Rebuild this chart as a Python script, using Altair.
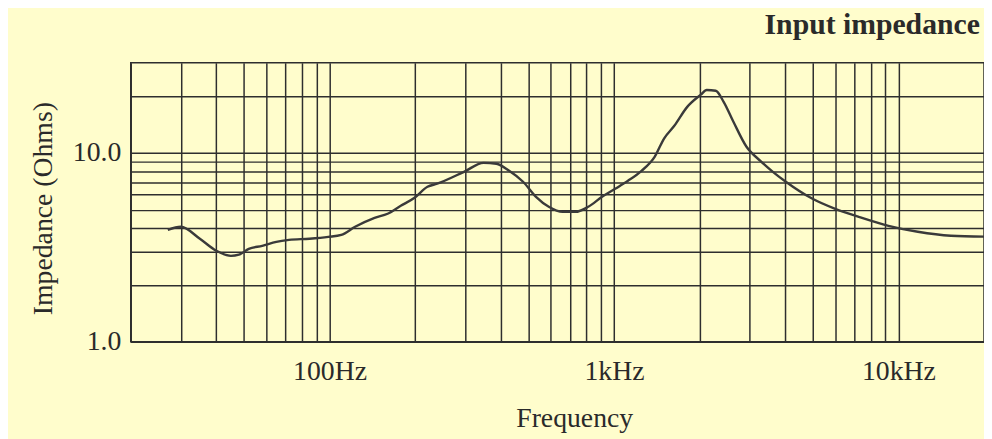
import altair as alt
import pandas as pd

freq = [27, 30, 35, 40, 45, 48, 52, 58, 65, 72, 85, 99, 110, 123, 144, 160, 178, 199, 221, 239,
        297, 348, 386, 428, 479, 532, 590, 660, 732, 812, 908, 1010, 1120, 1250, 1390, 1500, 1630,
        1810, 2020, 2120, 2280, 2430, 2630, 2920, 3270, 3620, 4020, 4990, 6000, 7260, 9230, 11700,
        15300, 20000]
impedance = [3.91, 4.06, 3.51, 3.03, 2.85, 2.89, 3.10, 3.22, 3.38, 3.46, 3.51, 3.59, 3.68, 4.06,
             4.53, 4.76, 5.24, 5.78, 6.61, 6.86, 7.93, 8.85, 8.75, 8.03, 7.03, 5.85, 5.18, 4.87,
             4.87, 5.18, 5.85, 6.45, 7.11, 8.03, 9.52, 11.9, 13.9, 17.5, 20.3, 21.5, 21.3, 18.6,
             14.6, 10.8, 9.07, 7.93, 7.03, 5.71, 5.05, 4.58, 4.11, 3.82, 3.64, 3.60]

x_grid = [30, 40, 50, 60, 70, 80, 90, 100, 200, 300, 400, 500, 600, 700, 800, 900,
          1000, 2000, 3000, 4000, 5000, 6000, 7000, 8000, 9000, 10000]
y_grid = [1, 2, 3, 4, 5, 6, 7, 8, 9, 10, 20]

df = pd.DataFrame({"freq": freq, "imp": impedance})

FONT = "Liberation Serif"
INK = "#2e2e2e"

chart = alt.Chart(df).mark_line(
    color="#3a3a3a", strokeWidth=2.4, interpolate="monotone"
).encode(
    x=alt.X("freq:Q",
            scale=alt.Scale(type="log", domain=[20, 20000], nice=False),
            axis=alt.Axis(values=x_grid, title="Frequency",
                          labelExpr="datum.value == 100 ? '100Hz' : datum.value == 1000 ? '1kHz' : datum.value == 10000 ? '10kHz' : ''",
                          labelOverlap=False, labelFlush=False, labelPadding=16,
                          titleX=448, titleY=86, titleBaseline="alphabetic",
                          titleAnchor="start", titleAlign="center")),
    y=alt.Y("imp:Q",
            scale=alt.Scale(type="log", domain=[1, 30], nice=False),
            axis=alt.Axis(values=y_grid, title="Impedance (Ohms)",
                          labelExpr="datum.value == 10 ? '10.0' : datum.value == 1 ? '1.0' : ''",
                          labelOverlap=False, labelFlush=False, labelPadding=10,
                          titleX=-80, titleY=147, titleBaseline="alphabetic",
                          titleAngle=-90, titleAlign="center")),
).properties(
    width=862,
    height=282,
    autosize=alt.AutoSizeParams(type="none"),
    padding={"left": 124, "top": 53, "right": 0, "bottom": 96},
    background="#fffdcc",
    title=alt.TitleParams("Input impedance", anchor="end", fontSize=30, font=FONT,
                          fontWeight="bold", color="#2a2a2a", offset=0, dy=1, dx=-9,
                          baseline="alphabetic"),
).configure_axis(
    grid=True,
    gridColor=INK,
    gridWidth=1.5,
    gridOpacity=1,
    domainColor=INK,
    domainWidth=1.5,
    ticks=False,
    labelFont=FONT,
    labelFontSize=28,
    labelColor="#2a2a2a",
    titleFont=FONT,
    titleFontSize=28,
    titleFontWeight="normal",
    titleColor="#2a2a2a",
).configure_view(
    stroke=INK,
    strokeWidth=1.5,
)

chart.save("out.html", embed_options={"renderer": "svg", "actions": False})
